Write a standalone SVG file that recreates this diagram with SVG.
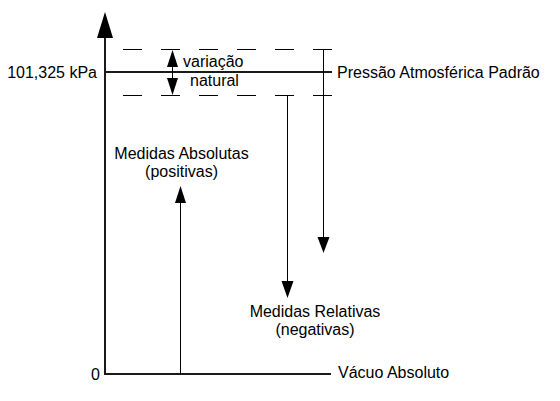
<svg xmlns="http://www.w3.org/2000/svg" width="560" height="401" viewBox="0 0 560 401">
<style>
text{font-family:"Liberation Sans",Arial,sans-serif;font-size:16px;fill:#000}
.thin{stroke:#000;stroke-width:1;fill:none}
.thick{stroke:#1a1a1a;stroke-width:2;fill:none}
.dash{stroke:#000;stroke-width:1;fill:none;stroke-dasharray:19 19}
.head{fill:#000}
</style>
<rect width="560" height="401" fill="#fff"/>
<g id="connectors">
<line class="thick" x1="105" y1="36" x2="105" y2="375"/>
<line class="thick" x1="104" y1="374" x2="331" y2="374"/>
<line class="thick" x1="105" y1="72" x2="332" y2="72" stroke="#333"/>
<line class="dash" x1="123" y1="49.5" x2="332" y2="49.5"/>
<line class="dash" x1="123" y1="95.5" x2="332" y2="95.5"/>
<line class="thin" x1="172.5" y1="60" x2="172.5" y2="86"/>
<line class="thin" x1="180.5" y1="374" x2="180.5" y2="200"/>
<line class="thin" x1="287.5" y1="95" x2="287.5" y2="284"/>
<line class="thin" x1="323.5" y1="49" x2="323.5" y2="240"/>
<polygon class="head" points="105,12 97,38 113,38"/>
<polygon class="head" points="172.5,50 167,67 178,67"/>
<polygon class="head" points="172.5,95 167,78 178,78"/>
<polygon class="head" points="180.5,186 175,203 186,203"/>
<polygon class="head" points="287.5,298 281.5,281 293.5,281"/>
<polygon class="head" points="323.5,253 317.5,237 329.5,237"/>
</g>
<g id="label-101325"><text x="97" y="78" text-anchor="end">101,325 kPa</text></g>
<g id="label-zero"><text x="100" y="380" text-anchor="end">0</text></g>
<g id="label-variacao"><text x="183" y="67">variação</text><text x="190" y="86">natural</text></g>
<g id="label-patm"><text x="337" y="78">Pressão Atmosférica Padrão</text></g>
<g id="label-abs"><text x="181.5" y="159" text-anchor="middle">Medidas Absolutas</text><text x="181.5" y="177" text-anchor="middle">(positivas)</text></g>
<g id="label-rel"><text x="315" y="317" text-anchor="middle">Medidas Relativas</text><text x="315" y="335" text-anchor="middle">(negativas)</text></g>
<g id="label-vacuo"><text x="338" y="378">Vácuo Absoluto</text></g>
</svg>
